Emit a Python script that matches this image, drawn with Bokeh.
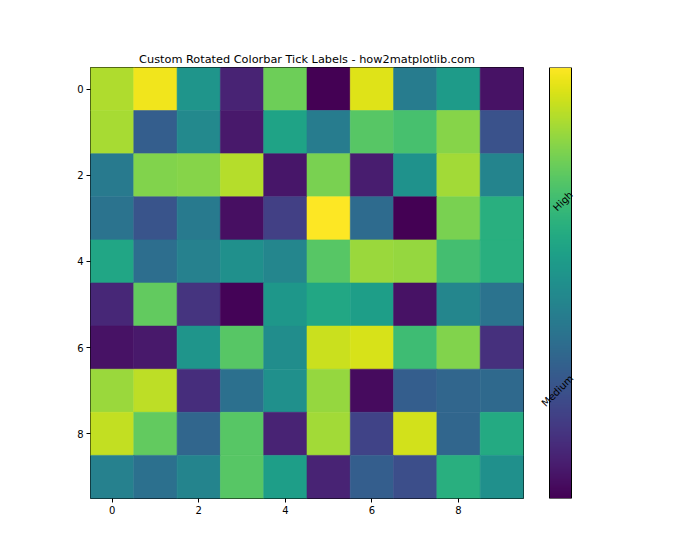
import numpy as np
from bokeh.plotting import figure
from bokeh.models import LinearColorMapper, Range1d, FixedTicker, ColumnDataSource
from bokeh.layouts import row
from bokeh.palettes import Viridis256
from bokeh.transform import transform
from bokeh.embed import file_html
from bokeh.resources import INLINE
from bokeh.core.properties import value

# ---- data ----
row_idx = list(range(10))
col_idx = list(range(10))
row0 = [0.88, 0.98, 0.52, 0.10, 0.78, 0.00, 0.95, 0.42, 0.55, 0.05]
row1 = [0.87, 0.30, 0.47, 0.07, 0.58, 0.42, 0.74, 0.71, 0.82, 0.25]
row2 = [0.41, 0.81, 0.82, 0.89, 0.06, 0.80, 0.08, 0.51, 0.86, 0.45]
row3 = [0.38, 0.26, 0.41, 0.04, 0.19, 1.00, 0.35, 0.00, 0.80, 0.63]
row4 = [0.59, 0.36, 0.44, 0.50, 0.46, 0.74, 0.85, 0.84, 0.70, 0.63]
row5 = [0.11, 0.76, 0.15, 0.01, 0.53, 0.60, 0.56, 0.05, 0.46, 0.38]
row6 = [0.05, 0.07, 0.52, 0.74, 0.49, 0.92, 0.94, 0.69, 0.81, 0.14]
row7 = [0.85, 0.90, 0.13, 0.37, 0.50, 0.84, 0.03, 0.30, 0.33, 0.34]
row8 = [0.91, 0.76, 0.33, 0.74, 0.10, 0.86, 0.20, 0.93, 0.33, 0.61]
row9 = [0.44, 0.37, 0.45, 0.74, 0.56, 0.10, 0.30, 0.24, 0.63, 0.50]
grid_rows = [row0, row1, row2, row3, row4, row5, row6, row7, row8, row9]

axis_ticks = [0, 2, 4, 6, 8]
cbar_ticks = [0.25, 0.69]
cbar_labels = ["Medium", "High"]
title_text = "Custom Rotated Colorbar Tick Labels - how2matplotlib.com"

FONT = "DejaVu Sans"

data = np.array(grid_rows)
vmin, vmax = float(data.min()), float(data.max())
mapper = LinearColorMapper(palette=Viridis256, low=vmin, high=vmax)

xs, ys, vs = [], [], []
for r in row_idx:
    for c in col_idx:
        xs.append(c)
        ys.append(r)
        vs.append(grid_rows[r][c])
src = ColumnDataSource(dict(x=xs, y=ys, v=vs))

# ---- main heatmap ----
p = figure(frame_width=433, frame_height=431,
           min_border_left=90, min_border_right=12,
           min_border_top=67, min_border_bottom=62,
           x_range=Range1d(-0.5, 9.5), y_range=Range1d(9.5, -0.5),
           output_backend="svg", toolbar_location=None, tools="")
p.rect(x="x", y="y", width=1, height=1, source=src,
       fill_color=transform("v", mapper), line_color=transform("v", mapper),
       line_width=0.6)
p.xgrid.visible = False
p.ygrid.visible = False
p.outline_line_color = "black"
p.outline_line_width = 1
p.background_fill_color = "white"
p.border_fill_color = "white"
for ax in (p.xaxis, p.yaxis):
    ax.ticker = FixedTicker(ticks=axis_ticks)
    ax.minor_tick_line_color = None
    ax.axis_line_color = None
    ax.major_tick_out = 4
    ax.major_tick_in = 0
    ax.major_tick_line_color = "black"
    ax.major_label_text_font = FONT
    ax.major_label_text_font_size = "10px"
    ax.major_label_text_color = "black"
    ax.major_label_standoff = 3
p.title.text = title_text
p.title.align = "center"
p.title.text_font = FONT
p.title.text_font_size = "11.3px"
p.title.text_font_style = "normal"
p.title.text_color = "black"
p.title.standoff = 4

# ---- colorbar ----
cb = figure(frame_width=60, frame_height=431,
            min_border_left=5, min_border_right=100,
            min_border_top=67, min_border_bottom=62,
            x_range=Range1d(0, 60), y_range=Range1d(vmin, vmax),
            x_axis_type=None, y_axis_type=None,
            output_backend="svg", toolbar_location=None, tools="")
cb.xgrid.visible = False
cb.ygrid.visible = False
cb.outline_line_color = None
cb.background_fill_color = "white"
cb.border_fill_color = "white"
grad = np.linspace(vmin, vmax, 256).reshape(256, 1)
cb.image(image=[grad], x=9, y=vmin, dw=22, dh=vmax - vmin, color_mapper=mapper)
cb.quad(left=[9], right=[31], bottom=[vmin], top=[vmax],
        fill_color=None, line_color="black", line_width=1)
lab_src = ColumnDataSource(dict(
    x=[31] * len(cbar_ticks), y=cbar_ticks, text=cbar_labels,
    xo=[-14.0, -8.5]))
cb.text(x="x", y="y", text="text", source=lab_src,
        angle=45, angle_units="deg", x_offset="xo",
        text_align="center", text_baseline="middle",
        text_font=value(FONT), text_font_size=value("10px"),
        text_color="black")

layout = row(p, cb, spacing=0)
open("out.html", "w").write(file_html(layout, INLINE))
